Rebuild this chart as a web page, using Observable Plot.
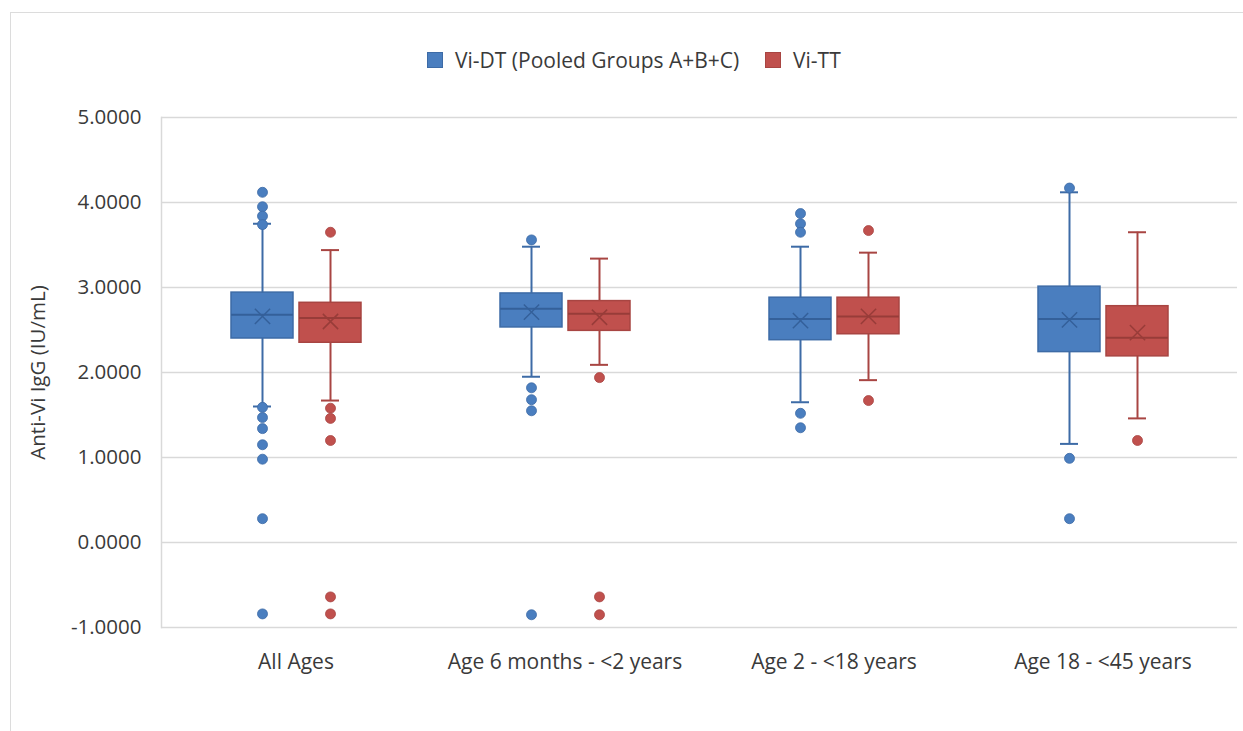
<!DOCTYPE html>
<html>
<head>
<meta charset="utf-8">
<script src="https://cdn.jsdelivr.net/npm/d3@7"></script>
<script src="https://cdn.jsdelivr.net/npm/@observablehq/plot@0.6"></script>
<style>
  html, body { margin: 0; padding: 0; background: #fff; }
  body { width: 1243px; height: 731px; overflow: hidden; position: relative; font-family: "Open Sans", sans-serif; }
  #frame { position: absolute; left: 10px; top: 12px; width: 1300px; height: 800px; border: 1px solid #dcdcdc; pointer-events: none; }
  #legend { height: 90px; position: relative; }
  .item { position: absolute; top: 46px; display: flex; align-items: center; font-size: 21px; color: #3a3a3a; white-space: nowrap; }
  .sw { width: 16px; height: 16px; margin-right: 12px; box-sizing: border-box; border: 1px solid; }
  #chart svg { display: block; }
</style>
</head>
<body>
<div id="frame"></div>
<div id="legend"></div>
<div id="chart"></div>
<script>
// ---- data ----
const categories = ["All Ages", "Age 6 months - <2 years", "Age 2 - <18 years", "Age 18 - <45 years"];
const seriesNames = ["Vi-DT (Pooled Groups A+B+C)", "Vi-TT"];
const yTicks = [-1, 0, 1, 2, 3, 4, 5];

// Vi-DT (Pooled Groups A+B+C)
const dtLower  = [1.60, 1.95, 1.65, 1.16];
const dtQ1     = [2.40, 2.53, 2.38, 2.24];
const dtMedian = [2.68, 2.75, 2.63, 2.63];
const dtQ3     = [2.94, 2.93, 2.88, 3.01];
const dtUpper  = [3.75, 3.48, 3.48, 4.12];
const dtMean   = [2.66, 2.71, 2.61, 2.62];
const dtOutliers = [
  [4.12, 3.95, 3.84, 3.74, 1.59, 1.47, 1.34, 1.15, 0.98, 0.28, -0.84],
  [3.56, 1.82, 1.68, 1.55, -0.85],
  [3.87, 3.75, 3.65, 1.52, 1.35],
  [4.17, 0.99, 0.28]
];

// Vi-TT
const ttLower  = [1.67, 2.09, 1.91, 1.46];
const ttQ1     = [2.35, 2.49, 2.45, 2.19];
const ttMedian = [2.64, 2.69, 2.66, 2.41];
const ttQ3     = [2.82, 2.84, 2.88, 2.78];
const ttUpper  = [3.44, 3.34, 3.41, 3.65];
const ttMean   = [2.60, 2.65, 2.66, 2.47];
const ttOutliers = [
  [3.65, 1.58, 1.46, 1.20, -0.64, -0.84],
  [1.94, -0.64, -0.85],
  [3.67, 1.67],
  [1.20]
];

// ---- styling ----
const seriesStyle = [
  {fill: "#4a7ebf", stroke: "#3d6ba6", dark: "#34609a"},
  {fill: "#c0504d", stroke: "#a84542", dark: "#983c39"}
];

// ---- build tables ----
const rawSeries = [
  {lower: dtLower, q1: dtQ1, median: dtMedian, q3: dtQ3, upper: dtUpper, mean: dtMean, outliers: dtOutliers},
  {lower: ttLower, q1: ttQ1, median: ttMedian, q3: ttQ3, upper: ttUpper, mean: ttMean, outliers: ttOutliers}
];

const marks = [
  Plot.gridY(yTicks, {stroke: "#d9d9d9", strokeOpacity: 1, strokeWidth: 1.5}),
  Plot.frame({anchor: "left", facetAnchor: "left", stroke: "#d9d9d9", strokeWidth: 1.5})
];

rawSeries.forEach((s, si) => {
  const name = seriesNames[si];
  const st = seriesStyle[si];
  const stats = categories.map((cat, i) => ({
    cat, series: name,
    lower: s.lower[i], q1: s.q1[i], median: s.median[i], q3: s.q3[i], upper: s.upper[i], mean: s.mean[i]
  }));
  const outs = categories.flatMap((cat, i) => s.outliers[i].map(v => ({cat, series: name, value: v})));
  marks.push(
    Plot.ruleX(stats, {fx: "cat", x: "series", y1: "lower", y2: "upper", stroke: st.stroke, strokeWidth: 2}),
    Plot.tickY(stats, {fx: "cat", x: "series", y: "lower", stroke: st.stroke, strokeWidth: 2, insetLeft: 22, insetRight: 22}),
    Plot.tickY(stats, {fx: "cat", x: "series", y: "upper", stroke: st.stroke, strokeWidth: 2, insetLeft: 22, insetRight: 22}),
    Plot.barY(stats, {fx: "cat", x: "series", y1: "q1", y2: "q3", fill: st.fill, stroke: st.stroke, strokeWidth: 1.5}),
    Plot.tickY(stats, {fx: "cat", x: "series", y: "median", stroke: st.dark, strokeWidth: 2}),
    Plot.dot(stats, {fx: "cat", x: "series", y: "mean", symbol: "times", r: 7, stroke: st.dark, strokeWidth: 1.5}),
    Plot.dot(outs, {fx: "cat", x: "series", y: "value", r: 5, fill: st.fill, stroke: st.stroke, strokeWidth: 0.8})
  );
});

marks.push(
  Plot.axisY(yTicks, {tickFormat: d => d.toFixed(4), tickSize: 0, tickPadding: 20, fontSize: 20.5, label: "Anti-Vi IgG (IU/mL)", labelAnchor: "center", labelOffset: 131, labelArrow: "none"}),
  Plot.axisFx({anchor: "bottom", tickSize: 0, tickPadding: 27, fontSize: 21, label: null})
);

const chart = Plot.plot({
  width: 1243,
  height: 641,
  marginLeft: 160,
  marginRight: 6,
  marginTop: 27,
  marginBottom: 104,
  style: {fontFamily: "Open Sans", fontSize: "19px", color: "#3a3a3a", background: "transparent", overflow: "visible"},
  fx: {domain: categories, padding: 0, label: null, axis: null},
  x: {domain: seriesNames, paddingInner: 0.09, paddingOuter: 1.02, axis: null},
  y: {domain: [-1, 5], label: null, axis: null},
  marks
});
document.getElementById("chart").appendChild(chart);

// ---- legend (HTML, above the SVG) ----
const legend = document.getElementById("legend");
const legendLeft = [427, 765];
seriesNames.forEach((n, i) => {
  const item = document.createElement("div");
  item.className = "item";
  item.style.left = legendLeft[i] + "px";
  const sw = document.createElement("span");
  sw.className = "sw";
  sw.style.background = seriesStyle[i].fill;
  sw.style.borderColor = seriesStyle[i].stroke;
  const t = document.createElement("span");
  t.textContent = n;
  item.appendChild(sw);
  item.appendChild(t);
  legend.appendChild(item);
});
</script>
</body>
</html>
